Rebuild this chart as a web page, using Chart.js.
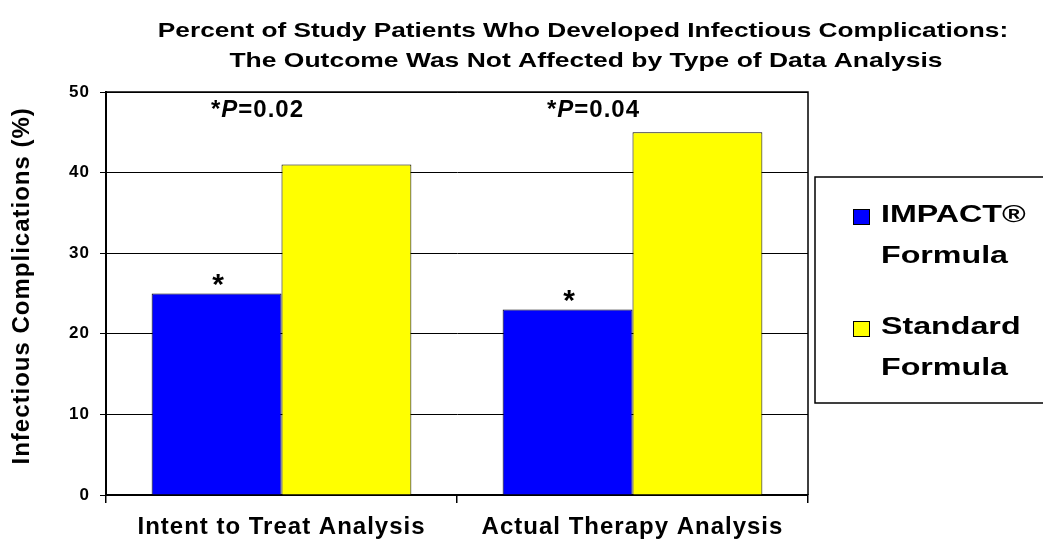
<!DOCTYPE html>
<html>
<head>
<meta charset="utf-8">
<script src="https://cdn.jsdelivr.net/npm/chart.js@4/dist/chart.umd.min.js"></script>
<style>
  html, body { margin: 0; padding: 0; background: #fff; }
  #wrap { width: 1043px; height: 548px; }
</style>
</head>
<body>
<div id="wrap"><canvas id="c" width="1043" height="548"></canvas></div>
<script>
// ---- data ----
const categories = ['Intent to Treat Analysis', 'Actual Therapy Analysis'];
const impactValues = [25, 23];
const standardValues = [41, 45];
const impactName = ['IMPACT®', 'Formula'];
const standardName = ['Standard', 'Formula'];
const pValues = ['0.02', '0.04'];
const titleLines = [
  'Percent of Study Patients Who Developed Infectious Complications:',
  'The Outcome Was Not Affected by Type of Data Analysis'
];
const yAxisTitle = 'Infectious Complications (%)';
const yMin = 0, yMax = 50, yStep = 10;

// ---- style ----
const FONT = '"Liberation Sans", Arial, Helvetica, sans-serif';
const BLUE = '#0000FF', YELLOW = '#FFFF00';
const pLabelShift = [-24, -39];   // horizontal shift of p-value labels from category centre (px)

function stretchText(ctx, text, x, y, sx) {
  ctx.save();
  ctx.translate(x, y);
  ctx.scale(sx, 1);
  ctx.fillText(text, 0, 0);
  ctx.restore();
}

const spacingPlugin = {
  id: 'spacing',
  beforeDraw(chart) { chart.ctx.letterSpacing = '1px'; }
};

const decorPlugin = {
  id: 'decor',
  afterDraw(chart) {
    const ctx = chart.ctx;
    const a = chart.chartArea;
    const xs = chart.scales.x, ys = chart.scales.y;
    ctx.save();
    // plot box (top/right)
    ctx.strokeStyle = '#000';
    ctx.lineWidth = 1.5;
    ctx.beginPath();
    ctx.moveTo(a.left, a.top);
    ctx.lineTo(a.right, a.top);
    ctx.lineTo(a.right, a.bottom);
    ctx.stroke();

    // title
    ctx.letterSpacing = '0px';
    ctx.fillStyle = '#000';
    ctx.textAlign = 'center';
    ctx.textBaseline = 'middle';
    ctx.font = 'bold 21px ' + FONT;
    stretchText(ctx, titleLines[0], 583, 31, 1.25);
    stretchText(ctx, titleLines[1], 586, 61, 1.26);

    // P-value annotations
    ctx.letterSpacing = '1px';
    const meta0 = chart.getDatasetMeta(0);
    ctx.textBaseline = 'middle';
    ctx.textAlign = 'left';
    pValues.forEach((p, i) => {
      const parts = [
        { t: '*', f: 'bold 24px ' + FONT },
        { t: 'P', f: 'italic bold 24px ' + FONT },
        { t: '=' + p, f: 'bold 24px ' + FONT }
      ];
      let w = 0;
      parts.forEach(pt => { ctx.font = pt.f; pt.w = ctx.measureText(pt.t).width; w += pt.w; });
      const cx = xs.getPixelForValue(i) + pLabelShift[i];
      const cy = ys.getPixelForValue(47.7);
      let x = cx - w / 2;
      parts.forEach(pt => { ctx.font = pt.f; ctx.fillText(pt.t, x, cy); x += pt.w; });
      // star above IMPACT bar
      const bar = meta0.data[i];
      ctx.font = 'bold 30px ' + FONT;
      ctx.textAlign = 'center';
      ctx.fillText('*', bar.x + 2, bar.y - 8);
      ctx.textAlign = 'left';
    });

    // legend
    const lx = 815, ly = 177, lw = 240, lh = 226;
    ctx.fillStyle = '#fff';
    ctx.fillRect(lx, ly, lw, lh);
    ctx.strokeStyle = '#000';
    ctx.lineWidth = 1.5;
    ctx.strokeRect(lx, ly, lw, lh);
    const items = [
      { name: impactName, color: chart.data.datasets[0].backgroundColor, y: 216 },
      { name: standardName, color: chart.data.datasets[1].backgroundColor, y: 328 }
    ];
    ctx.letterSpacing = '0px';
    ctx.font = 'bold 23px ' + FONT;
    ctx.textBaseline = 'middle';
    ctx.textAlign = 'left';
    items.forEach(it => {
      ctx.fillStyle = it.color;
      ctx.fillRect(853, it.y - 7, 16, 15);
      ctx.lineWidth = 1;
      ctx.strokeStyle = '#000';
      ctx.strokeRect(853.5, it.y - 6.5, 16, 15);
      ctx.fillStyle = '#000';
      it.name.forEach((ln, k) => stretchText(ctx, ln, 881, it.y + k * 41, 1.4));
    });
    ctx.restore();
    ctx.letterSpacing = '0px';
  }
};

new Chart(document.getElementById('c'), {
  type: 'bar',
  data: {
    labels: categories,
    datasets: [
      { label: impactName.join(' '), data: impactValues, backgroundColor: BLUE, borderColor: '#000', borderWidth: 1 },
      { label: standardName.join(' '), data: standardValues, backgroundColor: YELLOW, borderColor: '#000', borderWidth: 1 }
    ]
  },
  options: {
    responsive: false,
    devicePixelRatio: 1,
    animation: false,
    layout: { padding: { top: 92, right: 235, left: 0, bottom: 0 } },
    datasets: { bar: { categoryPercentage: 0.74, barPercentage: 1.0 } },
    plugins: {
      legend: { display: false },
      title: { display: false },
      tooltip: { enabled: false }
    },
    scales: {
      x: {
        grid: { offset: true, drawOnChartArea: false, drawTicks: true, tickLength: 8, color: '#000', lineWidth: 1.5 },
        border: { color: '#000', width: 2 },
        ticks: { color: '#000', font: { family: FONT, size: 24, weight: 'bold' }, padding: 10, maxRotation: 0 },
        afterFit(s) { s.height = 53; }
      },
      y: {
        min: yMin, max: yMax,
        grid: { color: '#000', lineWidth: 1, tickLength: 6, drawTicks: true },
        border: { color: '#000', width: 2 },
        ticks: { stepSize: yStep, color: '#000', font: { family: FONT, size: 17, weight: 'bold' }, padding: 10 },
        title: { display: true, text: '  ' + yAxisTitle, color: '#000', font: { family: FONT, size: 24, weight: 'bold' }, padding: { top: 8, bottom: 0 } },
        afterFit(s) { s.width = 106; }
      }
    }
  },
  plugins: [spacingPlugin, decorPlugin]
});
</script>
</body>
</html>
